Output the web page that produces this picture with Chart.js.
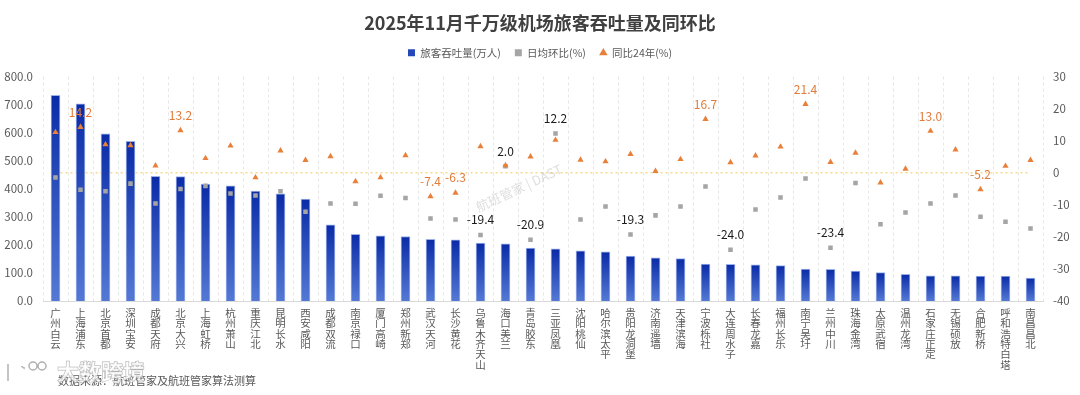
<!DOCTYPE html>
<html>
<head>
<meta charset="utf-8">
<script src="https://cdn.jsdelivr.net/npm/chart.js@4.4.1/dist/chart.umd.min.js"></script>
<style>
  html, body { margin: 0; padding: 0; background: #fff; }
  #wrap { width: 1080px; height: 395px; position: relative; }
</style>
</head>
<body>
<div id="wrap"><canvas id="chart" width="1080" height="395"></canvas></div>
<script>
'use strict'

const airports = ["广州白云", "上海浦东", "北京首都", "深圳宝安", "成都天府", "北京大兴", "上海虹桥", "杭州萧山",
    "重庆江北", "昆明长水", "西安咸阳", "成都双流", "南京禄口", "厦门高崎", "郑州新郑", "武汉天河", "长沙黄花",
    "乌鲁木齐天山", "海口美兰", "青岛胶东", "三亚凤凰", "沈阳桃仙", "哈尔滨太平", "贵阳龙洞堡", "济南遥墙",
    "天津滨海", "宁波栎社", "大连周水子", "长春龙嘉", "福州长乐", "南宁吴圩", "兰州中川", "珠海金湾", "太原武宿",
    "温州龙湾", "石家庄正定", "无锡硕放", "合肥新桥", "呼和浩特白塔", "南昌昌北"]

// 旅客吞吐量(万人)
const passengers = [733, 703, 596, 569, 444, 443, 417, 410, 392, 382, 363, 271, 238, 232, 230, 220, 218,
    206, 204, 189, 186, 179, 175, 160, 154, 151, 132, 131, 129, 126, 114, 113, 107, 101, 95, 90, 90, 89, 89, 82]

// 日均环比(%)
const momChange = [-1.5, -5.3, -5.8, -3.4, -9.6, -5.1, -4.1, -6.5, -7.1, -5.8, -12.2, -9.6, -9.7, -7.2, -7.9, -14.3, -14.6,
    -19.4, 2.0, -20.9, 12.2, -14.6, -10.5, -19.3, -13.3, -10.5, -4.3, -24.0, -11.5, -7.7, -1.8, -23.4, -3.2, -16.1,
    -12.4, -9.6, -7.1, -13.7, -15.3, -17.4]

// 同比24年(%)
const yoyChange = [12.6, 14.2, 8.8, 8.5, 2.2, 13.2, 4.5, 8.4, -1.5, 6.9, 3.9, 5.1, -2.7, -1.5, 5.4, -7.4, -6.3,
    8.2, 2.3, 5.0, 10.2, 4.0, 3.5, 5.8, 0.5, 4.2, 16.7, 3.2, 5.3, 8.1, 21.4, 3.3, 6.2, -3.1,
    1.2, 13.0, 7.2, -5.2, 2.1, 3.9]

// points that carry a value label
const momLabeled = ["乌鲁木齐天山", "海口美兰", "青岛胶东", "三亚凤凰", "贵阳龙洞堡", "大连周水子", "兰州中川"]
const yoyLabeled = ["上海浦东", "北京大兴", "武汉天河", "长沙黄花", "宁波栎社", "南宁吴圩", "石家庄正定", "合肥新桥"]

const leftTicks = [0, 100, 200, 300, 400, 500, 600, 700, 800]
const rightTicks = [-40, -30, -20, -10, 0, 10, 20, 30]

const cjk = '"Microsoft YaHei", "Noto Sans CJK SC", "Noto Sans", sans-serif'

// gradient for each bar, dark at the top, lighter at the base
function barGradient(context) {
    const chart = context.chart
    if (!chart.chartArea || context.parsed === undefined) return '#2a4dbf'
    const yScale = chart.scales.y
    const top = yScale.getPixelForValue(context.parsed.y)
    const bottom = yScale.getPixelForValue(0)
    const g = chart.ctx.createLinearGradient(0, top, 0, bottom)
    g.addColorStop(0, '#0a2ba6')
    g.addColorStop(1, '#5479d4')
    return g
}

// value labels above chosen points
const pointLabels = {
    id: 'pointLabels',
    afterDatasetsDraw(chart) {
        const ctx = chart.ctx
        ctx.save()
        ctx.font = '12px ' + cjk
        ctx.textAlign = 'center'
        ctx.textBaseline = 'middle'
        const sets = [
            {index: 1, names: momLabeled, values: momChange, color: '#1a1a1a'},
            {index: 2, names: yoyLabeled, values: yoyChange, color: '#e07b3c'}
        ]
        sets.forEach(s => {
            const meta = chart.getDatasetMeta(s.index)
            meta.data.forEach((pt, i) => {
                if (!s.names.includes(airports[i])) return
                ctx.fillStyle = s.color
                ctx.fillText(s.values[i].toFixed(1), pt.x, pt.y - 15)
            })
        })
        ctx.restore()
    }
}

// dotted zero line on the right axis, watermark and source note
const extras = {
    id: 'extras',
    beforeDatasetsDraw(chart) {
        const ctx = chart.ctx
        const x = chart.scales.x
        const y0 = chart.scales.y1.getPixelForValue(0)
        ctx.save()
        ctx.strokeStyle = '#f6d98c'
        ctx.lineWidth = 1.5
        ctx.setLineDash([2, 3])
        ctx.beginPath()
        ctx.moveTo(x.getPixelForValue(0), y0)
        ctx.lineTo(x.getPixelForValue(airports.length - 1), y0)
        ctx.stroke()
        ctx.restore()
    },
    afterDraw(chart) {
        const ctx = chart.ctx
        ctx.save()
        // center watermark
        ctx.translate(519, 188)
        ctx.rotate(-25 * Math.PI / 180)
        ctx.font = '13px ' + cjk
        ctx.fillStyle = 'rgba(160,160,160,0.35)'
        ctx.textAlign = 'center'
        ctx.textBaseline = 'middle'
        ctx.fillText('航班管家 | DAST', 0, 0)
        ctx.restore()

        ctx.save()
        ctx.font = '11px ' + cjk
        ctx.fillStyle = '#595959'
        ctx.textBaseline = 'middle'
        ctx.fillText('数据来源：航班管家及航班管家算法测算', 58, 381)
        // bottom-left brand watermark
        ctx.font = 'bold 22px ' + cjk
        ctx.fillStyle = 'rgba(255,255,255,0.7)'
        ctx.strokeStyle = 'rgba(150,150,150,0.75)'
        ctx.lineWidth = 1
        ctx.strokeText('大数跨境', 57, 372)
        ctx.fillText('大数跨境', 57, 372)
        ctx.lineWidth = 1.5
        ctx.beginPath()
        ctx.moveTo(8, 364)
        ctx.lineTo(8, 381)
        ctx.moveTo(24, 367)
        ctx.arc(19, 373, 7, -Math.PI / 4, Math.PI * 1.6, true)
        ctx.moveTo(37, 366)
        ctx.arc(33, 366, 4, 0, Math.PI * 2)
        ctx.moveTo(46, 366)
        ctx.arc(42, 366, 4, 0, Math.PI * 2)
        ctx.stroke()
        ctx.restore()
    }
}

const chartCanvas = document.getElementById('chart')

new Chart(chartCanvas, {
    data: {
        labels: airports.map(name => name.split('')),
        datasets: [
            {
                type: 'bar',
                label: '旅客吞吐量(万人)',
                data: passengers,
                yAxisID: 'y',
                backgroundColor: barGradient,
                borderColor: '#9db1ea',
                borderWidth: 1,
                barThickness: 9,
                order: 3,
            },
            {
                type: 'line',
                label: '日均环比(%)',
                data: momChange,
                yAxisID: 'y1',
                showLine: false,
                pointStyle: 'rect',
                pointRadius: 3.2,
                pointBackgroundColor: '#a5a5a5',
                pointBorderWidth: 0,
                backgroundColor: '#a5a5a5',
                borderColor: '#a5a5a5',
                order: 2,
            },
            {
                type: 'line',
                label: '同比24年(%)',
                data: yoyChange,
                yAxisID: 'y1',
                showLine: false,
                pointStyle: 'triangle',
                pointRadius: 3.6,
                pointBackgroundColor: '#e8803a',
                pointBorderWidth: 0,
                backgroundColor: '#e8803a',
                borderColor: '#e8803a',
                order: 1,
            }
        ]
    },
    options: {
        responsive: false,
        animation: false,
        layout: {padding: {left: 0, right: 0, top: 0, bottom: 0}},
        plugins: {
            title: {
                display: true,
                text: '2025年11月千万级机场旅客吞吐量及同环比',
                color: '#404040',
                font: {size: 18, weight: 'bold', family: cjk},
                padding: {top: 12, bottom: 0}
            },
            subtitle: {
                // empty spacer between legend and plot
                display: true,
                position: 'top',
                weight: 500,
                text: '',
                font: {size: 2},
                padding: {top: 3, bottom: 3}
            },
            legend: {
                display: true,
                labels: {
                    usePointStyle: true,
                    boxWidth: 7,
                    boxHeight: 7,
                    padding: 14,
                    color: '#595959',
                    font: {size: 10.5, family: cjk},
                    sort: (a, b) => a.datasetIndex - b.datasetIndex,
                    generateLabels(chart) {
                        const items = Chart.defaults.plugins.legend.labels.generateLabels(chart)
                        const fills = ['#2448b8', '#a5a5a5', '#e8803a']
                        const styles = ['rect', 'rect', 'triangle']
                        items.forEach(it => {
                            it.fillStyle = fills[it.datasetIndex]
                            it.strokeStyle = fills[it.datasetIndex]
                            it.lineWidth = 0
                            it.pointStyle = styles[it.datasetIndex]
                        })
                        return items
                    }
                }
            },
            tooltip: {enabled: false}
        },
        scales: {
            x: {
                offset: true,
                grid: {
                    display: true,
                    offset: true,
                    drawTicks: false,
                    color: '#e6e6e6',
                    lineWidth: 1
                },
                border: {display: true, color: '#d9d9d9', dash: [3, 3]},
                ticks: {
                    autoSkip: false,
                    maxRotation: 0,
                    minRotation: 0,
                    padding: 7,
                    color: '#595959',
                    font: {size: 10.5, family: cjk, lineHeight: 0.98}
                },
                afterFit(scale) { scale.height = 94 }
            },
            y: {
                position: 'left',
                min: leftTicks[0],
                max: leftTicks[leftTicks.length - 1],
                afterBuildTicks(scale) { scale.ticks = leftTicks.map(v => ({value: v})) },
                grid: {display: false, drawTicks: false},
                border: {display: false},
                ticks: {
                    padding: 10,
                    color: '#595959',
                    font: {size: 11.5, family: cjk},
                    callback: v => v.toFixed(1)
                },
                afterFit(scale) { scale.width = 43 }
            },
            y1: {
                position: 'right',
                min: rightTicks[0],
                max: rightTicks[rightTicks.length - 1],
                afterBuildTicks(scale) { scale.ticks = rightTicks.map(v => ({value: v})) },
                grid: {display: false, drawTicks: false},
                border: {display: false},
                ticks: {
                    padding: 10,
                    color: '#595959',
                    font: {size: 11.5, family: cjk}
                },
                afterFit(scale) { scale.width = 37 }
            }
        }
    },
    plugins: [extras, pointLabels]
})
</script>
</body>
</html>
